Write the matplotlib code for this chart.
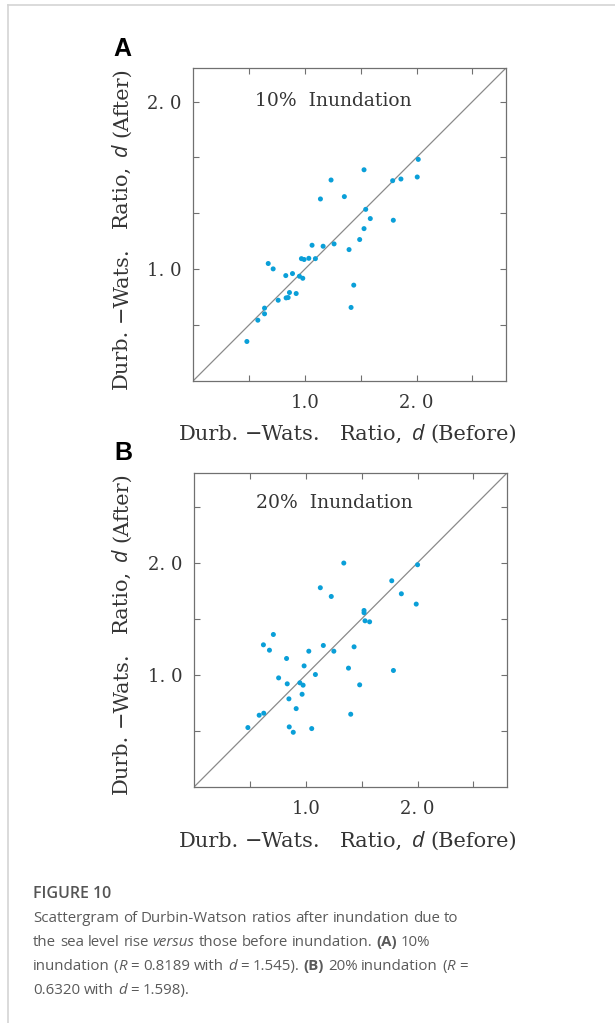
import re
import numpy as np
import matplotlib
matplotlib.use("Agg")
import matplotlib.pyplot as plt
from matplotlib.lines import Line2D

# Durbin-Watson ratio before / after inundation
before_10 = [0.482, 0.580, 0.640, 0.640, 0.673, 0.717, 0.762, 0.830, 0.890, 0.833,
             0.851, 0.863, 0.923, 0.952, 0.982, 0.970, 0.994, 1.036, 1.095, 1.065,
             1.164, 1.262, 1.140, 1.235, 1.354, 1.396, 1.438, 1.414, 1.491, 1.530,
             1.545, 1.586, 1.530, 1.792, 1.786, 1.860, 2.006, 2.015]
after_10 = [0.569, 0.696, 0.734, 0.768, 1.034, 1.002, 0.815, 0.962, 0.974, 0.829,
            0.831, 0.861, 0.855, 0.958, 0.946, 1.063, 1.058, 1.065, 1.063, 1.143,
            1.137, 1.151, 1.419, 1.532, 1.433, 1.117, 0.905, 0.772, 1.177, 1.242,
            1.357, 1.302, 1.593, 1.292, 1.528, 1.538, 1.550, 1.655]

before_20 = [1.340, 1.130, 1.228, 1.769, 1.855, 1.988, 2.000, 1.521, 1.521, 1.530,
             1.571, 0.710, 0.621, 0.675, 1.157, 1.251, 1.027, 1.432, 0.828, 0.985,
             1.382, 1.784, 1.086, 0.757, 0.834, 0.947, 0.976, 1.482, 0.849, 0.967,
             0.914, 1.402, 0.624, 0.583, 0.482, 0.852, 0.888, 1.053]
after_20 = [1.997, 1.777, 1.699, 1.839, 1.723, 1.631, 1.982, 1.574, 1.554, 1.482,
            1.473, 1.360, 1.268, 1.220, 1.262, 1.211, 1.211, 1.250, 1.146, 1.080,
            1.060, 1.039, 1.003, 0.973, 0.920, 0.929, 0.908, 0.911, 0.786, 0.827,
            0.699, 0.649, 0.658, 0.640, 0.530, 0.536, 0.488, 0.521]

x_ticks = [0.5, 1.0, 1.5, 2.0, 2.5]
x_ticklabels = ["", "1.0", "", "2. 0", ""]
y_ticks_a = [2 / 3, 1.0, 4 / 3, 5 / 3, 2.0]
y_ticks_b = [0.5, 1.0, 1.5, 2.0, 2.5]
y_ticklabels_a = ["", "1. 0", "", "", "2. 0"]
y_ticklabels_b = ["", "1. 0", "", "2. 0", ""]

W, H = 615, 1023
fig = plt.figure(figsize=(W / 100, H / 100), dpi=100)
renderer = fig.canvas.get_renderer()

serif = "DejaVu Serif"
txt = "#353535"
spine_c = "#707070"
dot_c = "#0a9fd8"

SERIF = dict(family=serif, fontsize=15, color=txt)
ITAL_D = dict(family="Open Sans", style="italic", fontsize=15.5, color=txt)


def px(x, y):
    return x / W, 1 - y / H


def _raw_w(s, **kw):
    t = fig.text(0, 0, s, **kw)
    w = t.get_window_extent(renderer).width
    t.remove()
    return w


def text_w(s, **kw):
    # advance width of s, bracketed so side bearings are counted
    return _raw_w("|" + s + "|", **kw) - _raw_w("||", **kw)


def draw_words(x, y, words, gaps, rotation=0, center=True):
    # x, y: pixel coords from top-left; words run left->right or bottom->top
    widths = [text_w(s, **kw) for s, kw in words]
    total = sum(widths) + sum(gaps)
    pos = -total / 2 if center else 0
    for (s, kw), w, g in zip(words, widths, gaps + [0]):
        fx, fy = (x, y - pos) if rotation == 90 else (x + pos, y)
        fig.text(fx / W, 1 - fy / H, s, rotation=rotation,
                 rotation_mode="anchor", ha="left", va="baseline", **kw)
        pos += w + g


def split_segments(segments, space_w):
    words, gaps, pending = [], [], 0
    for s, kw in segments:
        for p in re.split(r"( +)", s):
            if not p:
                continue
            if p.startswith(" "):
                pending += len(p)
            else:
                if words:
                    gaps.append(pending * space_w)
                words.append((p, kw))
                pending = 0
    return words, gaps


def axis_label(word):
    words = [("Durb.", SERIF), ("\u2212Wats.", SERIF), ("Ratio,", SERIF),
             ("d", ITAL_D), (word, SERIF)]
    return words, [6, 19, 9, 6]


def panel(rect, xs, ys, ylim, yticks, yticklabels, title, letter, letter_xy,
          title_xy, ylab_xy, xlab_xy):
    l, t, r, b = rect
    ax = fig.add_axes([l / W, 1 - b / H, (r - l) / W, (b - t) / H])
    ax.scatter(xs, ys, s=13, color=dot_c, edgecolors="none", zorder=3)
    ax.add_line(Line2D([0, 1], [0, 1], transform=ax.transAxes,
                       color="#8a8a8a", lw=0.9, zorder=2))
    ax.set_xlim(0, 2.8)
    ax.set_ylim(*ylim)
    ax.set_xticks(x_ticks)
    ax.set_xticklabels(x_ticklabels)
    ax.set_yticks(yticks)
    ax.set_yticklabels(yticklabels)
    ax.tick_params(direction="in", length=4.5, width=0.8, color=spine_c,
                   top=True, right=True, labelsize=13, labelcolor=txt)
    ax.tick_params(axis="x", pad=9)
    ax.tick_params(axis="y", pad=8)
    for lab in ax.get_xticklabels() + ax.get_yticklabels():
        lab.set_family(serif)
    for sp in ax.spines.values():
        sp.set_color(spine_c)
        sp.set_linewidth(0.9)

    fig.text(*px(*title_xy), title, family=serif, fontsize=13.5, color=txt,
             ha="center", va="center")
    fig.text(*px(*letter_xy), letter, family="Liberation Sans", weight="bold",
             fontsize=18, color="black", ha="center", va="center")
    draw_words(ylab_xy[0], ylab_xy[1], *axis_label("(After)"), rotation=90)
    draw_words(xlab_xy[0], xlab_xy[1], *axis_label("(Before)"))
    return ax


panel((193, 68, 506, 381), before_10, after_10, (1 / 3, 2.2), y_ticks_a,
      y_ticklabels_a, "10%  Inundation", "A", (122.5, 49), (333, 101),
      (127, 228), (348, 440))
panel((194, 473, 507, 787), before_20, after_20, (0, 2.8), y_ticks_b,
      y_ticklabels_b, "20%  Inundation", "B", (123.5, 453.5), (334, 503),
      (127, 633), (348, 847))

# page frame lines
fig.add_artist(Line2D([7.5 / W, 7.5 / W], [1 - 5 / H, 0], transform=fig.transFigure,
                      color="#d4d4d4", lw=1.2))
fig.add_artist(Line2D([7.5 / W, 1], [1 - 5 / H, 1 - 5 / H], transform=fig.transFigure,
                      color="#d4d4d4", lw=1.2))

# caption
cap_c = "#5a5a5a"
REG = dict(family="Open Sans", fontsize=10.8, color=cap_c)
ITA = dict(REG, style="italic")
BLD = dict(REG, weight="bold")
sp_w = text_w(" ", **REG)

fig.text(33 / W, 1 - 898 / H, "FIGURE 10", family="Open Sans", weight="semibold",
         fontsize=11.5, color="#555555", va="baseline")
cap_lines = [
    [("Scattergram of Durbin-Watson ratios after inundation due to", REG)],
    [("the sea level rise ", REG), ("versus", ITA), (" those before inundation. ", REG),
     ("(A)", BLD), (" 10%", REG)],
    [("inundation (", REG), ("R", ITA), (" = 0.8189 with ", REG), ("d", ITA),
     (" = 1.545). ", REG), ("(B)", BLD), (" 20% inundation (", REG), ("R", ITA),
     (" =", REG)],
    [("0.6320 with ", REG), ("d", ITA), (" = 1.598).", REG)],
]
for i, segs in enumerate(cap_lines):
    words, gaps = split_segments(segs, sp_w)
    draw_words(33, 921.7 + 24 * i, words, gaps, center=False)

fig.savefig("out.png", dpi=100)
